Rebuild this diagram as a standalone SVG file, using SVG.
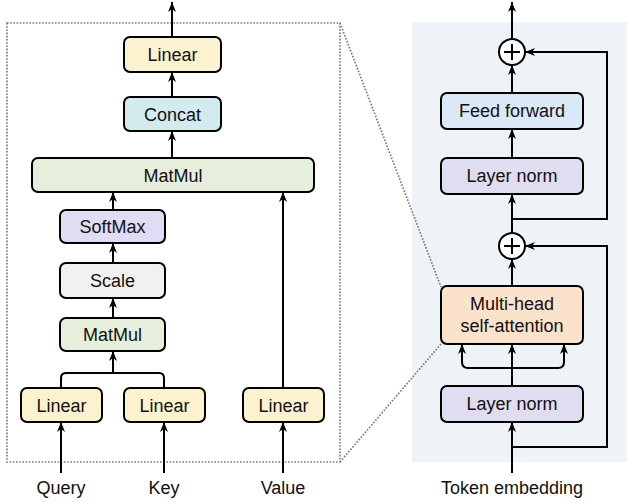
<svg xmlns="http://www.w3.org/2000/svg" width="627" height="504" viewBox="0 0 627 504">
<style>
.box{stroke:#000;stroke-width:2;}
.t{font-family:"Liberation Sans",Arial,sans-serif;font-size:18px;fill:#111;text-anchor:middle;}
.c{fill:none;stroke:#000;stroke-width:2;}
.a{marker-end:url(#ah);}
.dot{fill:none;stroke:#7a7a7a;stroke-width:1.7;stroke-dasharray:1.6 1.6;}
.lin{fill:#fdf2d0;}
.mm{fill:#e5efdb;}
.ln{fill:#e0ddf0;}
</style>
<defs>
<marker id="ah" viewBox="0 0 10 10" refX="10" refY="5" markerWidth="11" markerHeight="10" markerUnits="userSpaceOnUse" orient="auto">
<path d="M0,1 L10,5 L0,9 L3,5 z" fill="#000"/>
</marker>
</defs>
<rect x="412" y="22" width="215" height="440" fill="#edf3f7"/>
<g id="zoom-outline">
<rect class="dot" x="7" y="23" width="333" height="439"/>
<path class="dot" d="M340,23 L441,287 M340,462 L441,344"/>
</g>
<g id="connectors">
<path class="c a" d="M172,37 V2"/>
<path class="c a" d="M172,97 V72"/>
<path class="c a" d="M172,158 V131"/>
<path class="c a" d="M113,210 V192"/>
<path class="c a" d="M113,263 V243"/>
<path class="c a" d="M113,318 V298"/>
<path class="c" d="M61,388 V378 Q61,373 66,373 H159 Q164,373 164,378 V388"/>
<path class="c a" d="M113,373 V351"/>
<path class="c a" d="M283,388 V192"/>
<path class="c a" d="M61,473 V422"/>
<path class="c a" d="M164,473 V422"/>
<path class="c a" d="M283,473 V422"/>
<path class="c a" d="M512,39 V2"/>
<path class="c a" d="M512,93 V65"/>
<path class="c a" d="M512,158 V129"/>
<path class="c a" d="M512,233 V194"/>
<path class="c a" d="M512,219 H607 V52 H525"/>
<path class="c a" d="M512,286 V259"/>
<path class="c a" d="M512,447 H607 V246 H525"/>
<path class="c a" d="M512,386 V344"/>
<path class="c a" d="M512,368 H468 Q462,368 462,362 V344"/>
<path class="c a" d="M512,368 H558 Q564,368 564,362 V344"/>
<path class="c a" d="M512,473 V422"/>
</g>
<g id="linear-out"><rect class="box lin" x="124" y="37" width="97" height="35" rx="6"/><text class="t" x="172.5" y="61">Linear</text></g>
<g id="concat"><rect class="box" fill="#d3eaee" x="124" y="97" width="97" height="34" rx="6"/><text class="t" x="172.5" y="120.5">Concat</text></g>
<g id="matmul-wide"><rect class="box mm" x="32" y="158" width="282" height="34" rx="6"/><text class="t" x="173" y="181.5">MatMul</text></g>
<g id="softmax"><rect class="box" fill="#dfdcf3" x="60" y="210" width="105" height="33" rx="6"/><text class="t" x="112.5" y="233">SoftMax</text></g>
<g id="scale"><rect class="box" fill="#f1f1f1" x="60" y="263" width="105" height="35" rx="6"/><text class="t" x="112.5" y="287">Scale</text></g>
<g id="matmul-small"><rect class="box mm" x="60" y="318" width="105" height="33" rx="6"/><text class="t" x="112.5" y="341">MatMul</text></g>
<g id="linear-q"><rect class="box lin" x="21" y="388" width="81" height="34" rx="6"/><text class="t" x="61.5" y="411.5">Linear</text></g>
<g id="linear-k"><rect class="box lin" x="124" y="388" width="81" height="34" rx="6"/><text class="t" x="164.5" y="411.5">Linear</text></g>
<g id="linear-v"><rect class="box lin" x="243" y="388" width="81" height="34" rx="6"/><text class="t" x="283.5" y="411.5">Linear</text></g>
<g id="label-query"><text class="t" x="61" y="494">Query</text></g>
<g id="label-key"><text class="t" x="164" y="494">Key</text></g>
<g id="label-value"><text class="t" x="283" y="494">Value</text></g>
<g id="add-top"><circle cx="512" cy="52" r="13" fill="#fff" stroke="#000" stroke-width="2"/><path class="c" d="M504,52 H520 M512,44 V60" stroke-width="2.2"/></g>
<g id="feed-forward"><rect class="box" fill="#dae8f8" x="441" y="93" width="142" height="36" rx="6"/><text class="t" x="512" y="117">Feed forward</text></g>
<g id="layer-norm-top"><rect class="box ln" x="441" y="158" width="142" height="36" rx="6"/><text class="t" x="512" y="182">Layer norm</text></g>
<g id="add-bottom"><circle cx="512" cy="246" r="13" fill="#fff" stroke="#000" stroke-width="2"/><path class="c" d="M504,246 H520 M512,238 V254" stroke-width="2.2"/></g>
<g id="multi-head"><rect class="box" fill="#fbe2cb" x="441" y="286" width="142" height="58" rx="6"/><text class="t" x="512" y="310">Multi-head</text><text class="t" x="512" y="332">self-attention</text></g>
<g id="layer-norm-bottom"><rect class="box ln" x="441" y="386" width="142" height="36" rx="6"/><text class="t" x="512" y="410">Layer norm</text></g>
<g id="label-token"><text class="t" x="512" y="494">Token embedding</text></g>
</svg>
